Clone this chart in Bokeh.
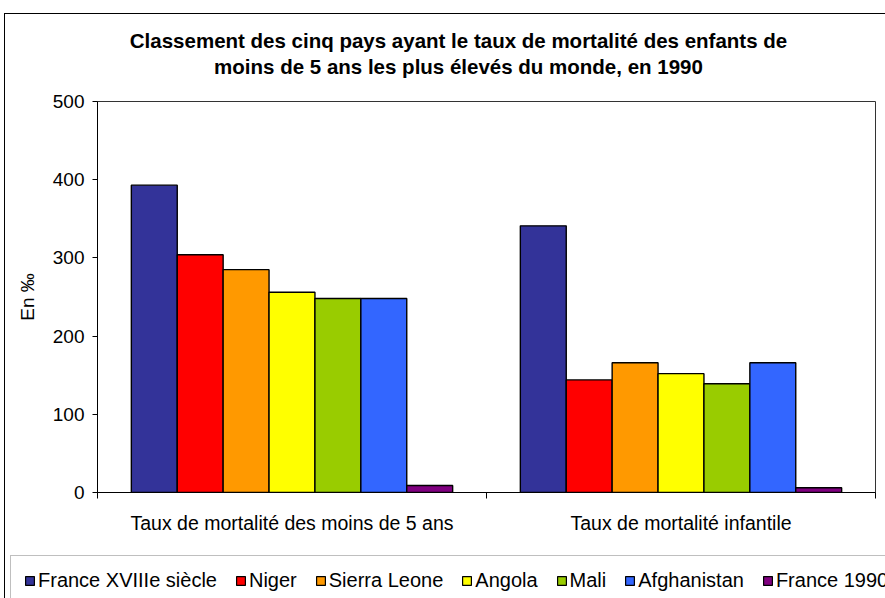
from bokeh.plotting import figure
from bokeh.models import Range1d, FixedTicker, Label
from bokeh.layouts import column
from bokeh.embed import file_html
from bokeh.resources import INLINE

# ---- data ----
categories = ["Taux de mortalité des moins de 5 ans", "Taux de mortalité infantile"]
series = ["France XVIIIe siècle", "Niger", "Sierra Leone", "Angola", "Mali", "Afghanistan", "France 1990"]
france_18 = [393, 341]
niger = [304, 144]
sierra_leone = [285, 166]
angola = [256, 152]
mali = [248, 139]
afghanistan = [248, 166]
france_1990 = [9, 6]
values = [france_18, niger, sierra_leone, angola, mali, afghanistan, france_1990]
colors = ["#333399", "#FF0000", "#FF9900", "#FFFF00", "#99CC00", "#3366FF", "#800080"]
y_ticks = [0, 100, 200, 300, 400, 500]
title_lines = ["Classement des cinq pays ayant le taux de mortalité des enfants de",
               "moins de 5 ans les plus élevés du monde, en 1990"]

FONT = "Liberation Sans"
W = 880
bar_w = 0.118
n = len(series)


def bare(fig):
    fig.xgrid.visible = False
    fig.ygrid.visible = False
    fig.outline_line_color = None
    fig.background_fill_color = "white"
    fig.border_fill_color = "white"
    if "frame_align" in fig.properties():
        fig.frame_align = False


def bar_x(j):
    return [i + 0.5 + (j - (n - 1) / 2) * bar_w for i in range(len(categories))]


# ---- title strip ----
TH = 72
tfig = figure(width=W, height=TH, output_backend="svg", toolbar_location=None,
              x_range=Range1d(0, W), y_range=Range1d(0, TH),
              x_axis_type=None, y_axis_type=None,
              min_border_left=0, min_border_right=0, min_border_top=0, min_border_bottom=0)
bare(tfig)
for k, line in enumerate(title_lines):
    tfig.add_layout(Label(x=453, y=46 - 26 * k, text=line, text_align="center",
                          text_baseline="middle", text_font=FONT, text_font_size="20.5px",
                          text_font_style="bold", text_color="black"))

# ---- main chart ----
p = figure(width=W, height=459, output_backend="svg", toolbar_location=None,
           x_range=Range1d(0, len(categories)), y_range=Range1d(0, 500),
           min_border_left=92, min_border_right=10, min_border_top=15, min_border_bottom=53)
bare(p)
p.outline_line_color = "#333333"
p.outline_line_width = 1

for j, (name, vals, col) in enumerate(zip(series, values, colors)):
    p.vbar(x=bar_x(j), top=vals, width=bar_w, bottom=0, fill_color=col,
           line_color="black", line_width=1.4)

yax = p.yaxis[0]
yax.ticker = FixedTicker(ticks=y_ticks, minor_ticks=[])
yax.axis_label = "En ‰"
yax.axis_label_text_font = FONT
yax.axis_label_text_font_size = "19px"
yax.axis_label_text_font_style = "normal"
yax.axis_label_text_color = "black"
yax.axis_label_standoff = 12
yax.major_label_text_font = FONT
yax.major_label_text_font_size = "19px"
yax.major_label_text_color = "black"
yax.major_tick_out = 5
yax.major_tick_in = 0
yax.major_label_standoff = 8
yax.axis_line_color = "black"
yax.major_tick_line_color = "black"

xax = p.xaxis[0]
xax.ticker = FixedTicker(ticks=[i + 0.5 for i in range(len(categories))],
                         minor_ticks=list(range(len(categories) + 1)))
xax.major_label_overrides = {i + 0.5: c for i, c in enumerate(categories)}
xax.major_label_text_font = FONT
xax.major_label_text_font_size = "19.5px"
xax.major_label_text_color = "black"
xax.major_tick_line_color = None
xax.major_tick_out = 0
xax.major_tick_in = 0
xax.minor_tick_line_color = "black"
xax.minor_tick_out = 6
xax.minor_tick_in = 0
xax.major_label_standoff = 13
xax.axis_line_color = "black"

# ---- legend strip (hidden copies of the bars; only their legend is shown) ----
LH = 53
lfig = figure(width=W, height=LH, output_backend="svg", toolbar_location=None,
              x_range=Range1d(0, len(categories)), y_range=Range1d(-2000, -1000),
              x_axis_type=None, y_axis_type=None,
              min_border_left=0, min_border_right=0, min_border_top=0, min_border_bottom=0)
bare(lfig)
for j, (name, vals, col) in enumerate(zip(series, values, colors)):
    r = lfig.vbar(x=bar_x(j), top=vals, width=bar_w, bottom=0, fill_color=col,
                  line_color="black", line_width=1.2, legend_label=name)
    r.visible = False
lg = lfig.legend[0]
lg.orientation = "horizontal"
lg.location = (5, -8)
lg.label_text_font = FONT
lg.label_text_font_size = "20px"
lg.label_text_color = "black"
lg.glyph_width = 11
lg.glyph_height = 11
lg.label_standoff = 3
lg.spacing = 18
lg.padding = 13
lg.margin = 0
lg.inactive_fill_alpha = 0
lg.border_line_color = "#808080"
lg.border_line_width = 1.5
lg.background_fill_alpha = 1

layout = column(tfig, p, lfig, spacing=0,
                styles={"margin-left": "4px", "margin-top": "13px",
                        "border-left": "1px solid black", "border-top": "1px solid black"})

open("out.html", "w").write(file_html(layout, INLINE))
